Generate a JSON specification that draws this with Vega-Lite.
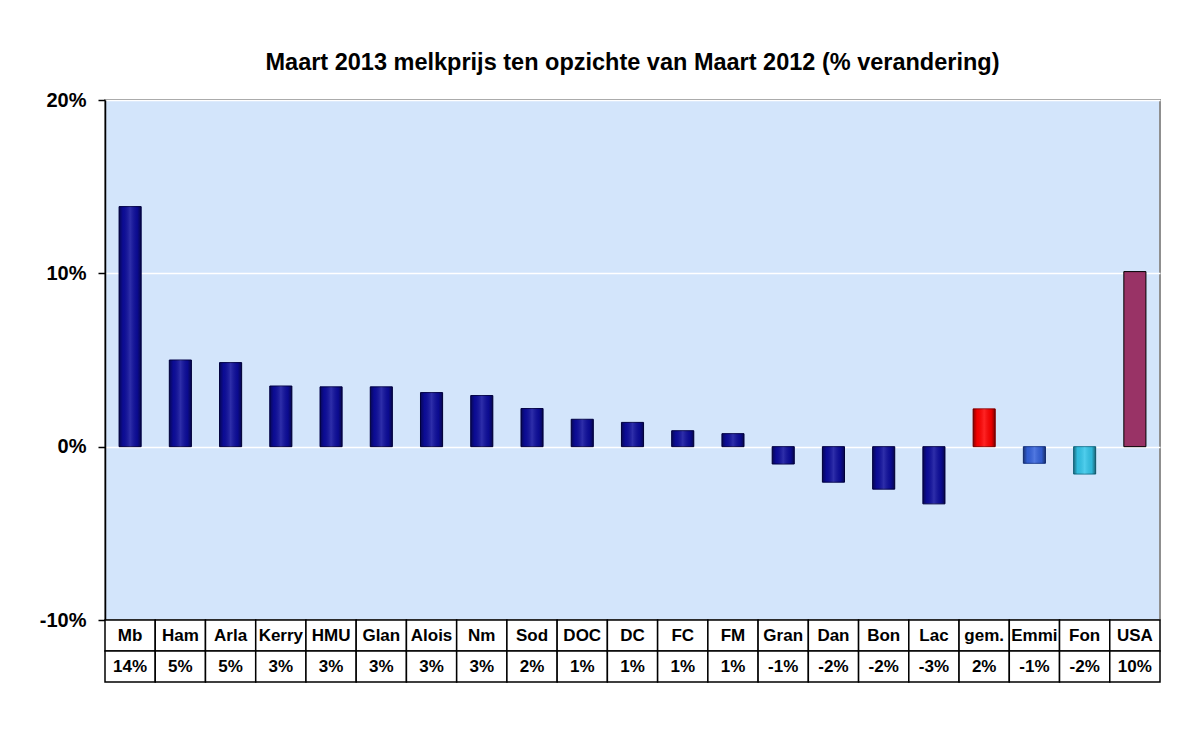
{
  "$schema": "https://vega.github.io/schema/vega-lite/v6.json",
  "background": "white",
  "padding": {"left": 38, "top": 49, "right": 30, "bottom": 20},
  "spacing": 0,
  "bounds": "flush",
  "config": {
    "font": "Liberation Sans",
    "view": {"stroke": "#8f8f8f", "strokeWidth": 2},
    "concat": {"spacing": 0}
  },
  "data": {
    "values": [
      {"name": "Mb", "value": 0.1385, "label": "14%", "group": "navy"},
      {"name": "Ham", "value": 0.0500, "label": "5%", "group": "navy"},
      {"name": "Arla", "value": 0.0485, "label": "5%", "group": "navy"},
      {"name": "Kerry", "value": 0.0350, "label": "3%", "group": "navy"},
      {"name": "HMU", "value": 0.0345, "label": "3%", "group": "navy"},
      {"name": "Glan", "value": 0.0345, "label": "3%", "group": "navy"},
      {"name": "Alois", "value": 0.0312, "label": "3%", "group": "navy"},
      {"name": "Nm", "value": 0.0295, "label": "3%", "group": "navy"},
      {"name": "Sod", "value": 0.0220, "label": "2%", "group": "navy"},
      {"name": "DOC", "value": 0.0158, "label": "1%", "group": "navy"},
      {"name": "DC", "value": 0.0140, "label": "1%", "group": "navy"},
      {"name": "FC", "value": 0.0092, "label": "1%", "group": "navy"},
      {"name": "FM", "value": 0.0075, "label": "1%", "group": "navy"},
      {"name": "Gran", "value": -0.0100, "label": "-1%", "group": "navy"},
      {"name": "Dan", "value": -0.0205, "label": "-2%", "group": "navy"},
      {"name": "Bon", "value": -0.0245, "label": "-2%", "group": "navy"},
      {"name": "Lac", "value": -0.0330, "label": "-3%", "group": "navy"},
      {"name": "gem.", "value": 0.0218, "label": "2%", "group": "red"},
      {"name": "Emmi", "value": -0.0096, "label": "-1%", "group": "blue"},
      {"name": "Fon", "value": -0.0158, "label": "-2%", "group": "cyan"},
      {"name": "USA", "value": 0.1010, "label": "10%", "group": "plum"}
    ]
  },
  "vconcat": [
    {
      "width": 1055,
      "height": 520,
      "title": {
        "text": "Maart 2013 melkprijs ten opzichte van Maart 2012 (% verandering)",
        "fontSize": 23.5,
        "fontWeight": "bold",
        "color": "black",
        "anchor": "middle",
        "frame": "group",
        "offset": 16
      },
      "view": {"fill": "#d3e5fb", "stroke": "#8f8f8f", "strokeWidth": 2},
      "encoding": {
        "x": {
          "field": "name",
          "type": "nominal",
          "sort": null,
          "scale": {"paddingInner": 0.56, "paddingOuter": 0.28},
          "axis": null
        }
      },
      "layer": [
        {
          "mark": {"type": "bar", "strokeWidth": 1},
          "encoding": {
            "y": {
              "field": "value",
              "type": "quantitative",
              "scale": {"domain": [-0.1, 0.2], "nice": false, "zero": true},
              "axis": {
                "values": [-0.1, 0, 0.1, 0.2],
                "format": ".0%",
                "labelExpr": "replace(datum.label, '\u2212', '-')",
                "title": null,
                "labelFont": "Liberation Sans",
                "labelFontSize": 20,
                "labelFontWeight": "bold",
                "labelColor": "black",
                "labelPadding": 12,
                "tickColor": "black",
                "tickSize": 7,
                "tickWidth": 1.5,
                "domainColor": "black",
                "domainWidth": 1.5,
                "grid": true,
                "gridColor": "white",
                "gridWidth": 1.5
              }
            },
            "color": {
              "field": "group",
              "type": "nominal",
              "scale": {
                "domain": ["navy", "red", "blue", "cyan", "plum"],
                "range": ["#0c0c9c", "#ff0000", "#3462dc", "#33c6ea", "#993366"]
              },
              "legend": null
            },
            "stroke": {
              "field": "group",
              "type": "nominal",
              "scale": {
                "domain": ["navy", "red", "blue", "cyan", "plum"],
                "range": ["#00004a", "#900000", "#1a3a90", "#1a7a96", "#000000"]
              },
              "legend": null
            }
          }
        },
        {
          "transform": [{"filter": "datum.group != 'plum'"}],
          "mark": {
            "type": "bar",
            "fill": {
              "gradient": "linear",
              "x1": 0, "y1": 0, "x2": 1, "y2": 0,
              "stops": [
                {"offset": 0, "color": "rgba(0,0,0,0.45)"},
                {"offset": 0.18, "color": "rgba(0,0,0,0.05)"},
                {"offset": 0.5, "color": "rgba(255,255,255,0.14)"},
                {"offset": 0.82, "color": "rgba(0,0,0,0.08)"},
                {"offset": 1, "color": "rgba(0,0,0,0.5)"}
              ]
            }
          },
          "encoding": {
            "y": {"field": "value", "type": "quantitative"}
          }
        },
        {
          "mark": {"type": "rule", "color": "black", "strokeWidth": 1.3},
          "encoding": {"y": {"datum": 0, "type": "quantitative"}}
        }
      ]
    },
    {
      "width": 1055,
      "height": 62,
      "view": {"stroke": null},
      "transform": [{"fold": ["name", "label"], "as": ["row", "txt"]}],
      "encoding": {
        "x": {
          "field": "name",
          "type": "nominal",
          "sort": null,
          "scale": {"paddingInner": 0, "paddingOuter": 0},
          "axis": null
        },
        "y": {
          "field": "row",
          "type": "nominal",
          "sort": ["name", "label"],
          "scale": {"paddingInner": 0, "paddingOuter": 0},
          "axis": null
        }
      },
      "layer": [
        {
          "mark": {"type": "rect", "fill": "white", "stroke": "black", "strokeWidth": 1.5}
        },
        {
          "mark": {
            "type": "text",
            "font": "Liberation Sans",
            "fontSize": 17,
            "fontWeight": "bold",
            "color": "black",
            "baseline": "middle",
            "align": "center"
          },
          "encoding": {"text": {"field": "txt", "type": "nominal"}}
        }
      ]
    }
  ],
  "resolve": {"scale": {"x": "independent"}}
}
